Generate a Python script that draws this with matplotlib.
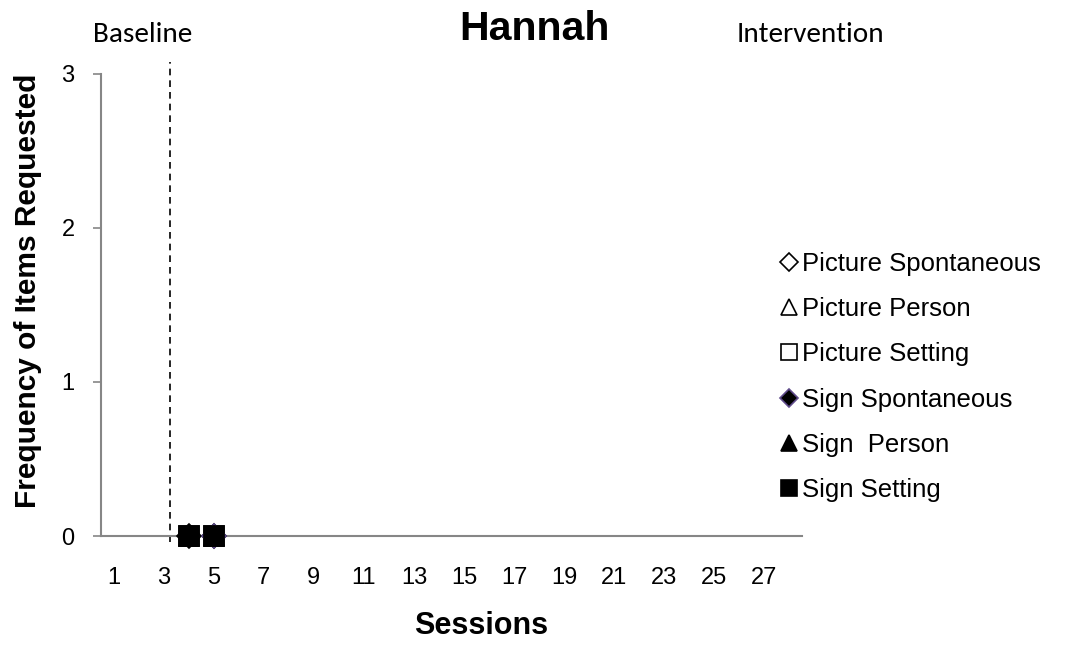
import matplotlib.pyplot as plt
import numpy as np

plt.rcParams['font.family'] = ['Liberation Sans', 'DejaVu Sans']

# data
sessions = [4, 5]
picture_spontaneous = [0, 0]
picture_person = [0, 0]
picture_setting = [0, 0]
sign_spontaneous = [np.nan, 0]
sign_person = [0, 0]
sign_setting = [0, 0]
n_sessions = 28
phase_change = 3.25
x_ticks = list(range(1, 28, 2))
y_ticks = [0, 1, 2, 3]

series = [
    ("Picture Spontaneous", picture_spontaneous, "D", "white", "black", 12),
    ("Picture Person", picture_person, "^", "white", "black", 15),
    ("Picture Setting", picture_setting, "s", "white", "black", 14),
    ("Sign Spontaneous", sign_spontaneous, "D", "black", "#5f4b8b", 12),
    ("Sign  Person", sign_person, "^", "black", "black", 15),
    ("Sign Setting", sign_setting, "s", "black", "black", 14),
]

fig = plt.figure(figsize=(10.66, 6.49), dpi=100)
ax = fig.add_axes([0.0947, 0.1741, 0.6576, 0.712])

handles = []
for label, vals, mk, fc, ec, ms in series:
    h, = ax.plot(sessions, vals, linestyle="none", marker=mk, markersize=ms,
                 markerfacecolor=fc, markeredgecolor=ec, markeredgewidth=1.2,
                 label=label, clip_on=False, zorder=3)
    handles.append(h)

# phase change line between baseline and intervention
ax.axvline(phase_change, ymin=-0.013, ymax=1.026, color="black", linestyle=(0, (4, 3)),
           linewidth=1.2, clip_on=False)

ax.set_xlim(0.5, n_sessions + 0.5)
ax.set_ylim(0, 3)
ax.set_xticks(x_ticks)
ax.set_yticks(y_ticks)
for s in ["top", "right"]:
    ax.spines[s].set_visible(False)
for s in ["left", "bottom"]:
    ax.spines[s].set_color("#868686")
    ax.spines[s].set_linewidth(1.5)
ax.tick_params(axis="x", length=0, pad=22, labelsize=17)
ax.tick_params(axis="y", length=6, width=1.2, color="#868686", pad=13, labelsize=17)

ax.set_xlabel("Sessions", fontsize=22, fontweight="bold", labelpad=16)
ax.set_ylabel("Frequency of Items Requested", fontsize=21.5, fontweight="bold", labelpad=14)
ax.xaxis.label.set_x(0.542)
ax.yaxis.label.set_y(0.53)

fig.text(0.501, 0.938, "Hannah", fontsize=29.5, fontweight="bold", ha="center", va="baseline")
side_font = ["Carlito", "Lato", "DejaVu Sans"]
fig.text(0.0872, 0.935, "Baseline", fontsize=21, family=side_font, ha="left", va="baseline")
fig.text(0.6914, 0.935, "Intervention", fontsize=21, family=side_font, ha="left", va="baseline")

leg = fig.legend(handles=handles, loc="upper left", bbox_to_anchor=(0.723, 0.628),
                 frameon=False, fontsize=18.5, markerscale=0.8, handlelength=0.6,
                 handletextpad=0.2, labelspacing=0.83, borderaxespad=0)

fig.savefig("out.png", dpi=100)
